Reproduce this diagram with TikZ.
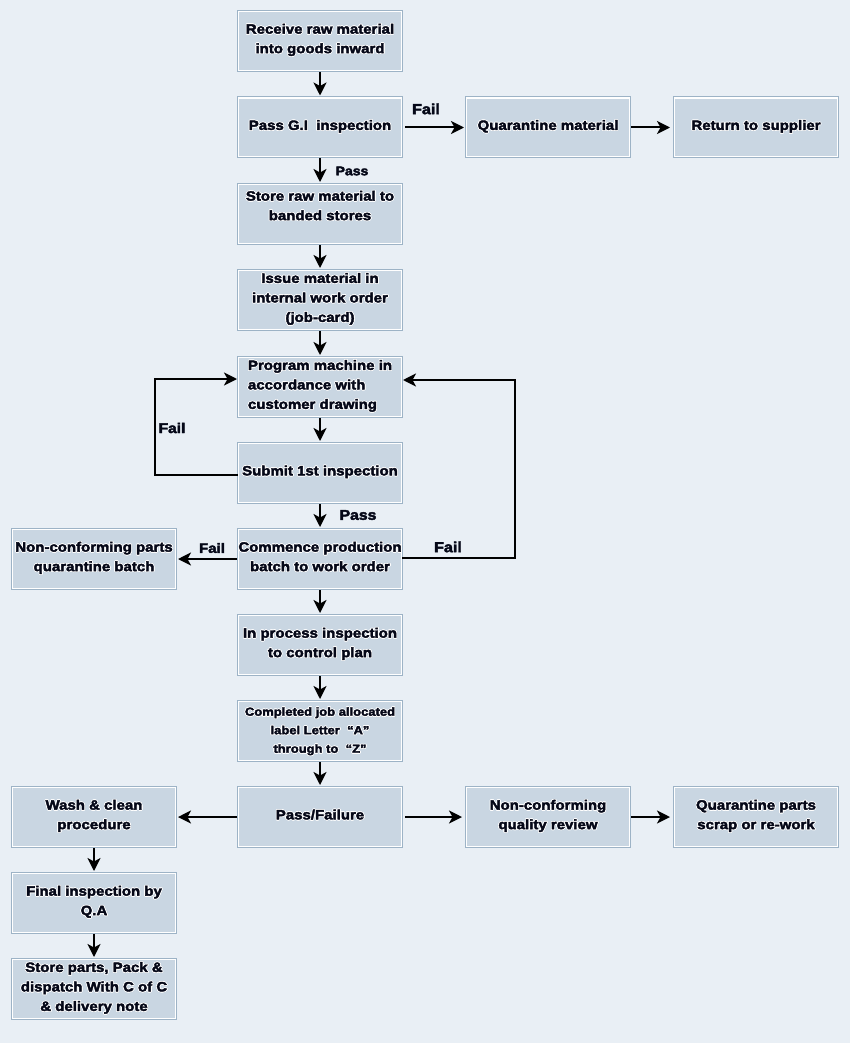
\documentclass[tikz,border=0pt]{standalone}
\usepackage{fontspec}
\setmainfont{Liberation Sans}[FakeStretch=1.11, BoldFeatures={FakeBold=3}]
\usepackage{contour}
\contourlength{0.7pt}
\usetikzlibrary{arrows.meta}
\definecolor{bg}{HTML}{E9EFF5}
\definecolor{boxfill}{HTML}{C9D6E2}
\definecolor{frame}{HTML}{9DB3C6}
\definecolor{txt}{HTML}{050818}
\newcommand{\cl}[1]{\contour{white}{#1}}
\tikzset{
  box/.style={draw=white, line width=1.3pt, fill=boxfill, minimum width=162.7pt,
    minimum height=58.7pt, inner sep=0pt, align=center, text=txt, text depth=5pt,
    font=\bfseries\fontsize{13.5}{19.5}\selectfont,
    preaction={draw=frame, line width=3.3pt}},
  arr/.style={-{Stealth[length=13pt,width=13pt,inset=3.5pt]}, line width=2pt, draw=black},
  lbl/.style={font=\bfseries\fontsize{14.5}{16}\selectfont, text=txt, inner sep=0pt}
}
\begin{document}
\begin{tikzpicture}[x=1pt,y=-1pt]
\useasboundingbox (0,0) rectangle (850,1043);
\fill[bg] (0,0) rectangle (850,1043);

\node[box] (rec) at (320,41) {\cl{Receive raw material}\\\cl{into goods inward}};
\node[box] (gi) at (320,127.5) {\cl{Pass G.I\ \ inspection}};
\node[box] (qm) at (548,127.5) {\cl{Quarantine material}};
\node[box] (rs) at (756,127.5) {\cl{Return to supplier}};
\node[box, text depth=17pt] (st) at (320,214) {\cl{Store raw material to}\\\cl{banded stores}};
\node[box] (is) at (320,300) {\cl{Issue material in}\\\cl{internal work order}\\\cl{(job-card)}};
\node[box, align=left] (pr) at (320,387) {\cl{Program machine in}\\\cl{accordance with}\\\cl{customer drawing}};
\node[box] (sub) at (320,473) {\cl{Submit 1st inspection}};
\node[box] (com) at (320,559) {\cl{Commence production}\\\cl{batch to work order}};
\node[box] (nc) at (94,559) {\cl{Non-conforming parts}\\\cl{quarantine batch}};
\node[box] (ip) at (320,645) {\cl{In process inspection}\\\cl{to control plan}};
\node[box, text depth=2pt, font=\bfseries\fontsize{11.7}{18.5}\selectfont] (cj) at (320,731) {\cl{Completed job allocated}\\\cl{label Letter\ \ “A”}\\\cl{through to\ \ “Z”}};
\node[box] (pf) at (320,817) {\cl{Pass/Failure}};
\node[box] (wa) at (94,817) {\cl{Wash \& clean}\\\cl{procedure}};
\node[box] (nq) at (548,817) {\cl{Non-conforming}\\\cl{quality review}};
\node[box] (qp) at (756,817) {\cl{Quarantine parts}\\\cl{scrap or re-work}};
\node[box] (fi) at (94,903) {\cl{Final inspection by}\\\cl{Q.A}};
\node[box] (sp) at (94,989) {\cl{Store parts, Pack \&}\\\cl{dispatch With C of C}\\\cl{\& delivery note}};

\foreach \a/\b in {rec/gi, gi/st, st/is, is/pr, pr/sub, sub/com, com/ip, ip/cj, cj/pf, wa/fi, fi/sp}
  \draw[arr, shorten >=2pt, shorten <=1pt] (\a.south) -- (\b.north);

\draw[arr, shorten >=2pt, shorten <=3pt] (gi.east) -- (qm.west);
\draw[arr, shorten >=4pt, shorten <=1pt] (qm.east) -- (rs.west);
\draw[arr, shorten >=2pt, shorten <=1pt] (com.west) -- (nc.east);
\draw[arr, shorten >=2pt, shorten <=1pt] (pf.west) -- (wa.east);
\draw[arr, shorten >=4pt, shorten <=3pt] (pf.east) -- (nq.west);
\draw[arr, shorten >=4pt, shorten <=1pt] (nq.east) -- (qp.west);

\coordinate (lc) at (155,475);
\coordinate (rc) at (515,558);
\draw[arr, shorten >=1pt] ([yshift=-2pt]sub.west) -- (lc) |- ([yshift=8pt]pr.west);
\draw[arr, shorten >=1pt] ([yshift=1pt]com.east) -- (rc) |- ([yshift=7pt]pr.east);

\node[lbl] (f1) at (426,109) {Fail};
\node[lbl, font=\bfseries\fontsize{12.6}{14}\selectfont] (p1) at (352,171) {Pass};
\node[lbl, font=\bfseries\fontsize{14}{16}\selectfont] (f2) at (172,428) {Fail};
\node[lbl, font=\bfseries\fontsize{14.2}{16}\selectfont] (p2) at (358,515) {Pass};
\node[lbl, font=\bfseries\fontsize{13.5}{16}\selectfont] (f3) at (212,548) {Fail};
\node[lbl] (f4) at (448,547) {Fail};
\end{tikzpicture}
\end{document}
